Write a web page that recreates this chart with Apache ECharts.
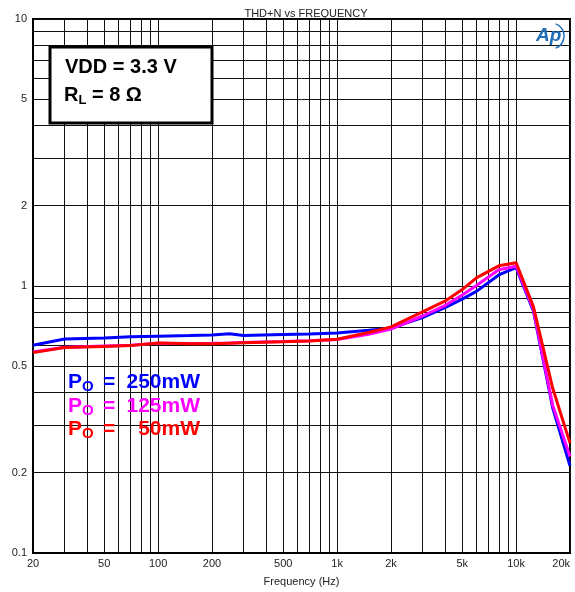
<!DOCTYPE html>
<html>
<head>
<meta charset="utf-8">
<script src="https://cdn.jsdelivr.net/npm/echarts@6/dist/echarts.min.js"></script>
<style>
  html, body { margin: 0; padding: 0; background: #fff; }
  #chart { width: 575px; height: 592px; }
</style>
</head>
<body>
<div id="chart"></div>
<script>
// frequency points (Hz)
const freq = [20, 30, 50, 70, 100, 150, 200, 250, 300, 500, 700, 1000, 1500, 2000, 3000, 4000, 5000, 6000, 8000, 10000, 12500, 16000, 20000];
// THD+N (%) per output power
const thd250 = [0.600, 0.633, 0.639, 0.645, 0.649, 0.652, 0.656, 0.663, 0.652, 0.658, 0.661, 0.667, 0.683, 0.695, 0.762, 0.830, 0.893, 0.955, 1.100, 1.172, 0.805, 0.350, 0.212];
const thd125 = [0.566, 0.590, 0.596, 0.600, 0.611, 0.609, 0.610, 0.612, 0.614, 0.619, 0.623, 0.630, 0.660, 0.690, 0.772, 0.845, 0.925, 1.005, 1.150, 1.185, 0.815, 0.358, 0.230];
const thd50 = [0.563, 0.588, 0.594, 0.598, 0.612, 0.608, 0.608, 0.611, 0.613, 0.618, 0.622, 0.632, 0.670, 0.703, 0.800, 0.877, 0.970, 1.073, 1.190, 1.222, 0.835, 0.415, 0.258];

const seriesNames = ['250mW', '125mW', '50mW'];
const seriesColors = ['#0000ff', '#ff00ff', '#ff0000'];

// axis labels / grid lines
const xLabels = [20, 50, 100, 200, 500, 1000, 2000, 5000, 10000, 20000];
const xGrid = [20, 30, 40, 50, 60, 70, 80, 90, 100, 200, 300, 400, 500, 600, 700, 800, 900, 1000,
  2000, 3000, 4000, 5000, 6000, 7000, 8000, 9000, 10000, 20000];
const yLabels = [0.1, 0.2, 0.5, 1, 2, 5, 10];
const yGrid = [0.1, 0.2, 0.3, 0.4, 0.5, 0.6, 0.7, 0.8, 0.9, 1, 2, 3, 4, 5, 6, 7, 8, 9, 10];

const myChart = echarts.init(document.getElementById('chart'));

const pairs = (ys) => freq.map((f, i) => [f, ys[i]]);

// legend rich styles, one set per colour
const rich = {};
seriesColors.forEach((c, i) => {
  rich['p' + i] = { color: c, fontSize: 21, fontWeight: 'bold', fontFamily: 'Liberation Sans, Arial', width: 14, lineHeight: 24 };
  rich['s' + i] = { color: c, fontSize: 15, fontWeight: 'bold', fontFamily: 'Liberation Sans, Arial', width: 21, verticalAlign: 'bottom' };
  rich['e' + i] = { color: c, fontSize: 21, fontWeight: 'bold', fontFamily: 'Liberation Sans, Arial', width: 12, lineHeight: 24 };
  rich['v' + i] = { color: c, fontSize: 21, fontWeight: 'bold', fontFamily: 'Liberation Sans, Arial', width: 85, align: 'right', lineHeight: 24 };
});

const options = {
  animation: false,
  backgroundColor: '#fff',
  title: {
    text: 'THD+N vs FREQUENCY',
    left: 301,
    textAlign: 'center',
    top: 3,
    textStyle: { fontSize: 11, fontWeight: 'normal', color: '#222', fontFamily: 'Liberation Sans, Arial' }
  },
  grid: {
    left: 33, right: 5, top: 19, bottom: 39,
    containLabel: false,
    outerBoundsMode: 'none',
    show: true,
    borderColor: '#000',
    borderWidth: 2
  },
  legend: {
    orient: 'vertical',
    left: 63,
    top: 372,
    padding: 0,
    itemGap: 1,
    icon: 'none',
    itemWidth: 0,
    itemHeight: 14,
    selectedMode: false,
    data: seriesNames,
    formatter: (name) => {
      const i = seriesNames.indexOf(name);
      return `{p${i}|P}{s${i}|O}{e${i}|=}{v${i}|${name}}`;
    },
    textStyle: { rich: rich }
  },
  xAxis: {
    type: 'log',
    logBase: 10,
    min: 20,
    max: 20000,
    name: 'Frequency (Hz)',
    nameLocation: 'middle',
    nameGap: 23,
    nameTextStyle: { fontSize: 11, color: '#222', fontFamily: 'Liberation Sans, Arial' },
    axisLine: { show: true, lineStyle: { color: '#000', width: 2 } },
    axisTick: { show: false, customValues: xGrid },
    axisLabel: {
      customValues: xLabels,
      fontSize: 11,
      color: '#222',
      margin: 5,
      alignMaxLabel: 'right',
      fontFamily: 'Liberation Sans, Arial',
      formatter: (v) => (v >= 1000 ? v / 1000 + 'k' : String(v))
    },
    splitLine: { show: true, lineStyle: { color: '#111', width: 1 } }
  },
  yAxis: {
    type: 'log',
    logBase: 10,
    min: 0.1,
    max: 10,
    axisLine: { show: true, lineStyle: { color: '#000', width: 2 } },
    axisTick: { show: false, customValues: yGrid },
    axisLabel: {
      customValues: yLabels,
      fontSize: 11,
      color: '#222',
      margin: 6,
      fontFamily: 'Liberation Sans, Arial',
      formatter: (v) => String(v)
    },
    splitLine: { show: true, lineStyle: { color: '#111', width: 1 } }
  },
  series: [thd250, thd125, thd50].map((ys, i) => ({
    name: seriesNames[i],
    type: 'line',
    data: pairs(ys),
    showSymbol: false,
    symbol: 'none',
    color: seriesColors[i],
    lineStyle: { width: 3, color: seriesColors[i] },
    z: 3 + i
  })),
  graphic: [
    {
      type: 'rect',
      z: 100,
      shape: { x: 50, y: 47, width: 162, height: 76 },
      style: { fill: '#fff', stroke: '#000', lineWidth: 3 }
    },
    {
      type: 'text',
      z: 101,
      x: 65, y: 67,
      style: {
        text: 'VDD = 3.3 V',
        fill: '#000',
        font: 'bold 20px "Liberation Sans", Arial',
        verticalAlign: 'middle'
      }
    },
    {
      type: 'text',
      z: 101,
      x: 64, y: 95,
      style: {
        text: '{a|R}{b|L}{a| = 8 Ω}',
        fill: '#000',
        verticalAlign: 'middle',
        rich: {
          a: { fontSize: 20, fontWeight: 'bold', fontFamily: 'Liberation Sans, Arial', lineHeight: 24, fill: '#000' },
          b: { fontSize: 13, fontWeight: 'bold', fontFamily: 'Liberation Sans, Arial', verticalAlign: 'bottom', fill: '#000' }
        }
      }
    },
    // "Ap" logo
    {
      type: 'text',
      z: 101,
      x: 536, y: 36,
      style: {
        text: 'Ap',
        fill: '#1f6fb8',
        font: 'italic bold 19px "Liberation Sans", Arial',
        verticalAlign: 'middle'
      }
    },
    {
      type: 'arc',
      z: 101,
      shape: { cx: 551, cy: 36, r: 13, startAngle: -Math.PI / 2.6, endAngle: Math.PI / 2.6 },
      style: { stroke: '#1f6fb8', lineWidth: 1.5, fill: 'none' }
    }
  ]
};

myChart.setOption(options);
</script>
</body>
</html>
